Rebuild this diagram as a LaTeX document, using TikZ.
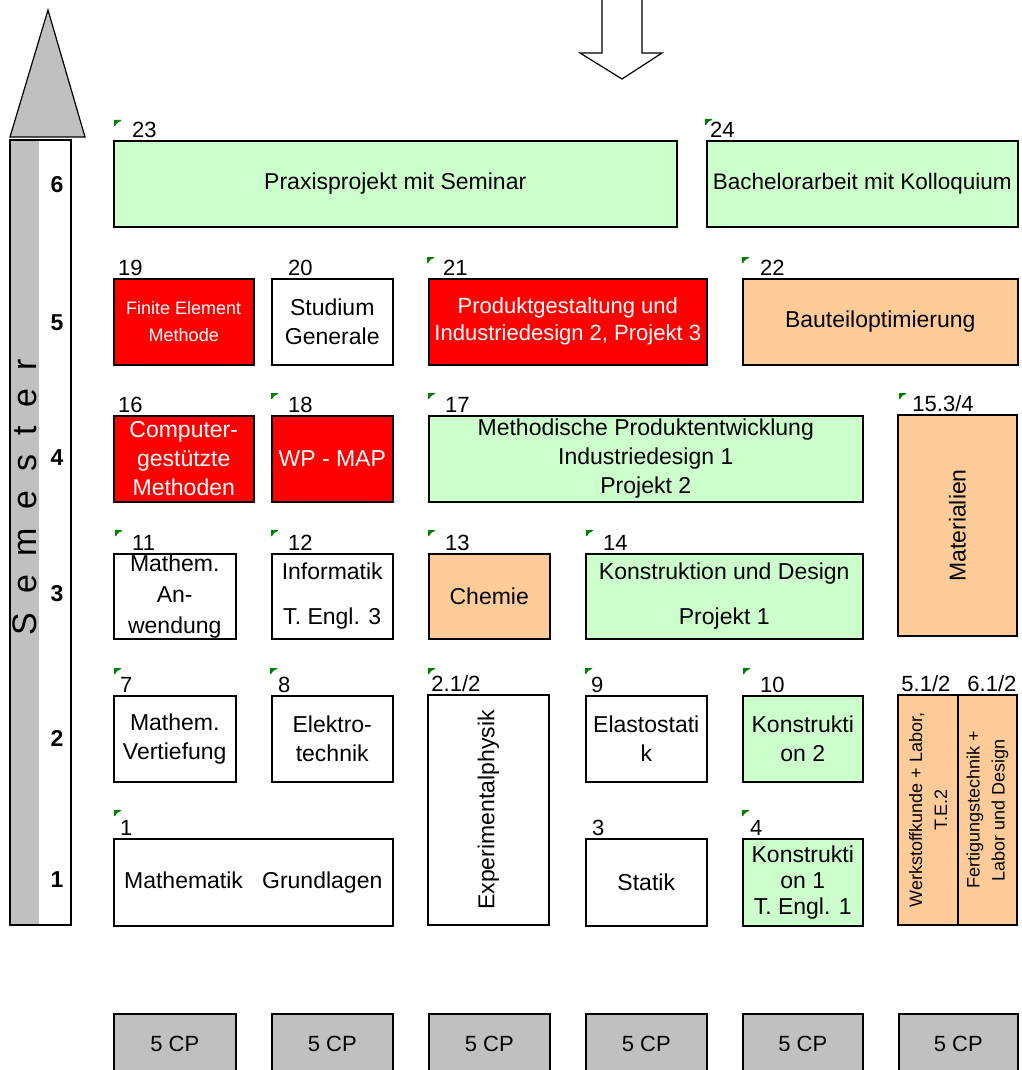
\documentclass[tikz,border=0pt]{standalone}
\usepackage{fontspec}
\setmainfont{Liberation Sans}
\usepackage{tikz}
\usetikzlibrary{positioning,calc}

\definecolor{hellgruen}{HTML}{CCFFCC}
\definecolor{hellorange}{HTML}{FFCC99}
\definecolor{grau}{HTML}{C0C0C0}
\definecolor{notizgruen}{HTML}{008000}

\tikzset{
  modul/.style={draw, line width=1.5pt, inner sep=0pt, anchor=north west, align=center,
    font=\fontsize{23}{29}\selectfont},
  modgruen/.style={modul, fill=hellgruen},
  modorange/.style={modul, fill=hellorange},
  modrot/.style={modul, fill=red, text=white},
  modweiss/.style={modul, fill=white},
  nr/.style={anchor=base west, inner sep=0pt, font=\fontsize{22}{22}\selectfont},
  notiz/.style={fill=notizgruen},
  cp/.style={draw, line width=1.5pt, fill=grau, anchor=north west, minimum height=60pt,
    font=\fontsize{22}{22}\selectfont},
  semnr/.style={font=\fontsize{23}{23}\selectfont\bfseries},
}

\begin{document}
\begin{tikzpicture}[x=1pt,y=-1pt]
    \useasboundingbox (0,0) rectangle (1021,1070);

    % Semester arrow
    \draw[line width=1.2pt, fill=grau] (10,137) -- (48,10) -- (85,137) -- cycle;
    \fill[grau] (10,140) rectangle (39,925);
    \draw[line width=1.5pt] (10,140) rectangle (71,925);
    \node[rotate=90, font=\fontsize{34}{34}\selectfont\addfontfeature{LetterSpace=55}] (semester) at (25,497) {Semester};
    \foreach \y/\s in {185/6, 323/5, 458/4, 594/3, 738/2, 880/1}
        \node[semnr] (s\s) at (57,\y) {\s};

    % Arrow from the top
    \draw[line width=1.2pt, fill=white] (602,-3) -- (602,53) -- (580,53) -- (622,79) -- (662,53) -- (642,53) -- (642,-3);

    % Semester 6
    \node[modgruen, minimum width=563pt, minimum height=86pt] (m23) at (113,140) {Praxisprojekt mit Seminar};
    \node[modgruen, minimum width=311pt, minimum height=86pt, font=\fontsize{22.5}{29}\selectfont] (m24) at (706,140) {Bachelorarbeit mit Kolloquium};

    % Semester 5
    \node[modrot, minimum width=140pt, minimum height=86pt, font=\fontsize{18}{27}\selectfont] (m19) at (113,278) {Finite Element\\Methode};
    \node[modweiss, minimum width=121pt, minimum height=86pt] (m20) at (271,278) {Studium\\Generale};
    \node[modrot, minimum width=278pt, minimum height=86pt, font=\fontsize{22}{27}\selectfont] (m21) at (428,278) {Produktgestaltung und\\Industriedesign 2, Projekt 3};
    \node[modorange, minimum width=275pt, minimum height=86pt] (m22) at (742,278) {Bauteiloptimierung};

    % Semester 4
    \node[modrot, minimum width=140pt, minimum height=86pt] (m16) at (113,415) {Computer-\\gestützte\\Methoden};
    \node[modrot, minimum width=121pt, minimum height=86pt] (m18) at (271,415) {WP - MAP};
    \node[modgruen, minimum width=434pt, minimum height=86pt] (m17) at (428,415) {Methodische Produktentwicklung\\Industriedesign 1\\Projekt 2};
    \node[modorange, anchor=center, rotate=90, minimum width=221pt, minimum height=119pt] (m15) at (957.5,525.5) {Materialien};

    % Semester 3
    \node[modweiss, minimum width=122pt, minimum height=85pt] (m11) at (113,553) {Mathem.\\[2pt]An-\\[2pt]wendung};
    \node[modweiss, minimum width=121pt, minimum height=85pt] (m12) at (271,553) {Informatik\\[16pt]T. Engl. 3};
    \node[modorange, minimum width=121pt, minimum height=85pt] (m13) at (428,553) {Chemie};
    \node[modgruen, minimum width=277pt, minimum height=85pt] (m14) at (585,553) {Konstruktion und Design\\[16pt]Projekt 1};

    % Semester 2
    \node[modweiss, minimum width=122pt, minimum height=86pt] (m7) at (113,695) {Mathem.\\Vertiefung};
    \node[modweiss, minimum width=121pt, minimum height=86pt] (m8) at (271,695) {Elektro-\\technik};
    \node[modweiss, anchor=center, rotate=90, minimum width=230pt, minimum height=121pt] (m2) at (488.5,810) {Experimentalphysik};
    \node[modweiss, minimum width=121pt, minimum height=86pt] (m9) at (585,695) {Elastostati\\k};
    \node[modgruen, minimum width=120pt, minimum height=86pt] (m10) at (742,695) {Konstrukti\\on 2};
    \node[modorange, anchor=center, rotate=90, minimum width=230pt, minimum height=60pt, font=\fontsize{18}{25}\selectfont] (m5) at (928,810) {Werkstoffkunde + Labor,\\T.E.2};
    \node[modorange, anchor=center, rotate=90, minimum width=230pt, minimum height=59pt, font=\fontsize{18}{25}\selectfont] (m6) at (987.5,810) {Fertigungstechnik +\\Labor und Design};

    % Semester 1
    \node[modweiss, minimum width=279pt, minimum height=87pt] (m1) at (113,838) {Mathematik\ \ \ Grundlagen};
    \node[modweiss, minimum width=121pt, minimum height=87pt] (m3) at (585,838) {Statik};
    \node[modgruen, minimum width=120pt, minimum height=87pt, font=\fontsize{23}{26}\selectfont] (m4) at (742,838) {Konstrukti\\on 1\\T. Engl. 1};

    % Module numbers
    \node[nr] (n23) at ([xshift=19pt,yshift=3pt]m23.north west) {23};
    \node[nr] (n24) at ([xshift=4pt,yshift=3pt]m24.north west) {24};
    \node[nr] (n19) at ([xshift=5pt,yshift=3pt]m19.north west) {19};
    \node[nr] (n20) at ([xshift=17pt,yshift=3pt]m20.north west) {20};
    \node[nr] (n21) at ([xshift=15pt,yshift=3pt]m21.north west) {21};
    \node[nr] (n22) at ([xshift=18pt,yshift=3pt]m22.north west) {22};
    \node[nr] (n16) at ([xshift=5pt,yshift=3pt]m16.north west) {16};
    \node[nr] (n18) at ([xshift=17pt,yshift=3pt]m18.north west) {18};
    \node[nr] (n17) at ([xshift=17pt,yshift=3pt]m17.north west) {17};
    \node[nr] (n15) at ([xshift=15pt,yshift=3pt]m15.north east) {15.3/4};
    \node[nr] (n11) at ([xshift=19pt,yshift=3pt]m11.north west) {11};
    \node[nr] (n12) at ([xshift=17pt,yshift=3pt]m12.north west) {12};
    \node[nr] (n13) at ([xshift=17pt,yshift=3pt]m13.north west) {13};
    \node[nr] (n14) at ([xshift=18pt,yshift=3pt]m14.north west) {14};
    \node[nr] (n7) at ([xshift=7pt,yshift=3pt]m7.north west) {7};
    \node[nr] (n8) at ([xshift=7pt,yshift=3pt]m8.north west) {8};
    \node[nr] (n2) at ([xshift=4pt,yshift=3pt]m2.north east) {2.1/2};
    \node[nr] (n9) at ([xshift=6pt,yshift=3pt]m9.north west) {9};
    \node[nr] (n10) at ([xshift=18pt,yshift=3pt]m10.north west) {10};
    \node[nr] (n5) at ([xshift=4pt,yshift=3pt]m5.north east) {5.1/2};
    \node[nr] (n6) at ([xshift=10pt,yshift=3pt]m6.north east) {6.1/2};
    \node[nr] (n1) at ([xshift=7pt,yshift=3pt]m1.north west) {1};
    \node[nr] (n3) at ([xshift=7pt,yshift=3pt]m3.north west) {3};
    \node[nr] (n4) at ([xshift=8pt,yshift=3pt]m4.north west) {4};

    % Comment marks
    \foreach \x/\y in {114/120, 705/119, 427/257, 742/257, 271/393, 428/393, 899/393,
                       115/530, 271/530, 428/530, 586/530, 114/668, 270/668, 428/668,
                       585/668, 743/668, 114/810, 742/810}
        \fill[notiz] (\x,\y) -- ++(7,0) -- ++(0,1) .. controls ++(-3,1) .. ++(-6,5) -- ++(-1,0) -- cycle;

    % Credit points
    \foreach \x/\w/\i in {113/122/1, 271/121/2, 428/121/3, 585/121/4, 742/120/5, 898/119/6}
        \node[cp, minimum width=\w pt] (cp\i) at (\x,1013) {5 CP};
\end{tikzpicture}
\end{document}
